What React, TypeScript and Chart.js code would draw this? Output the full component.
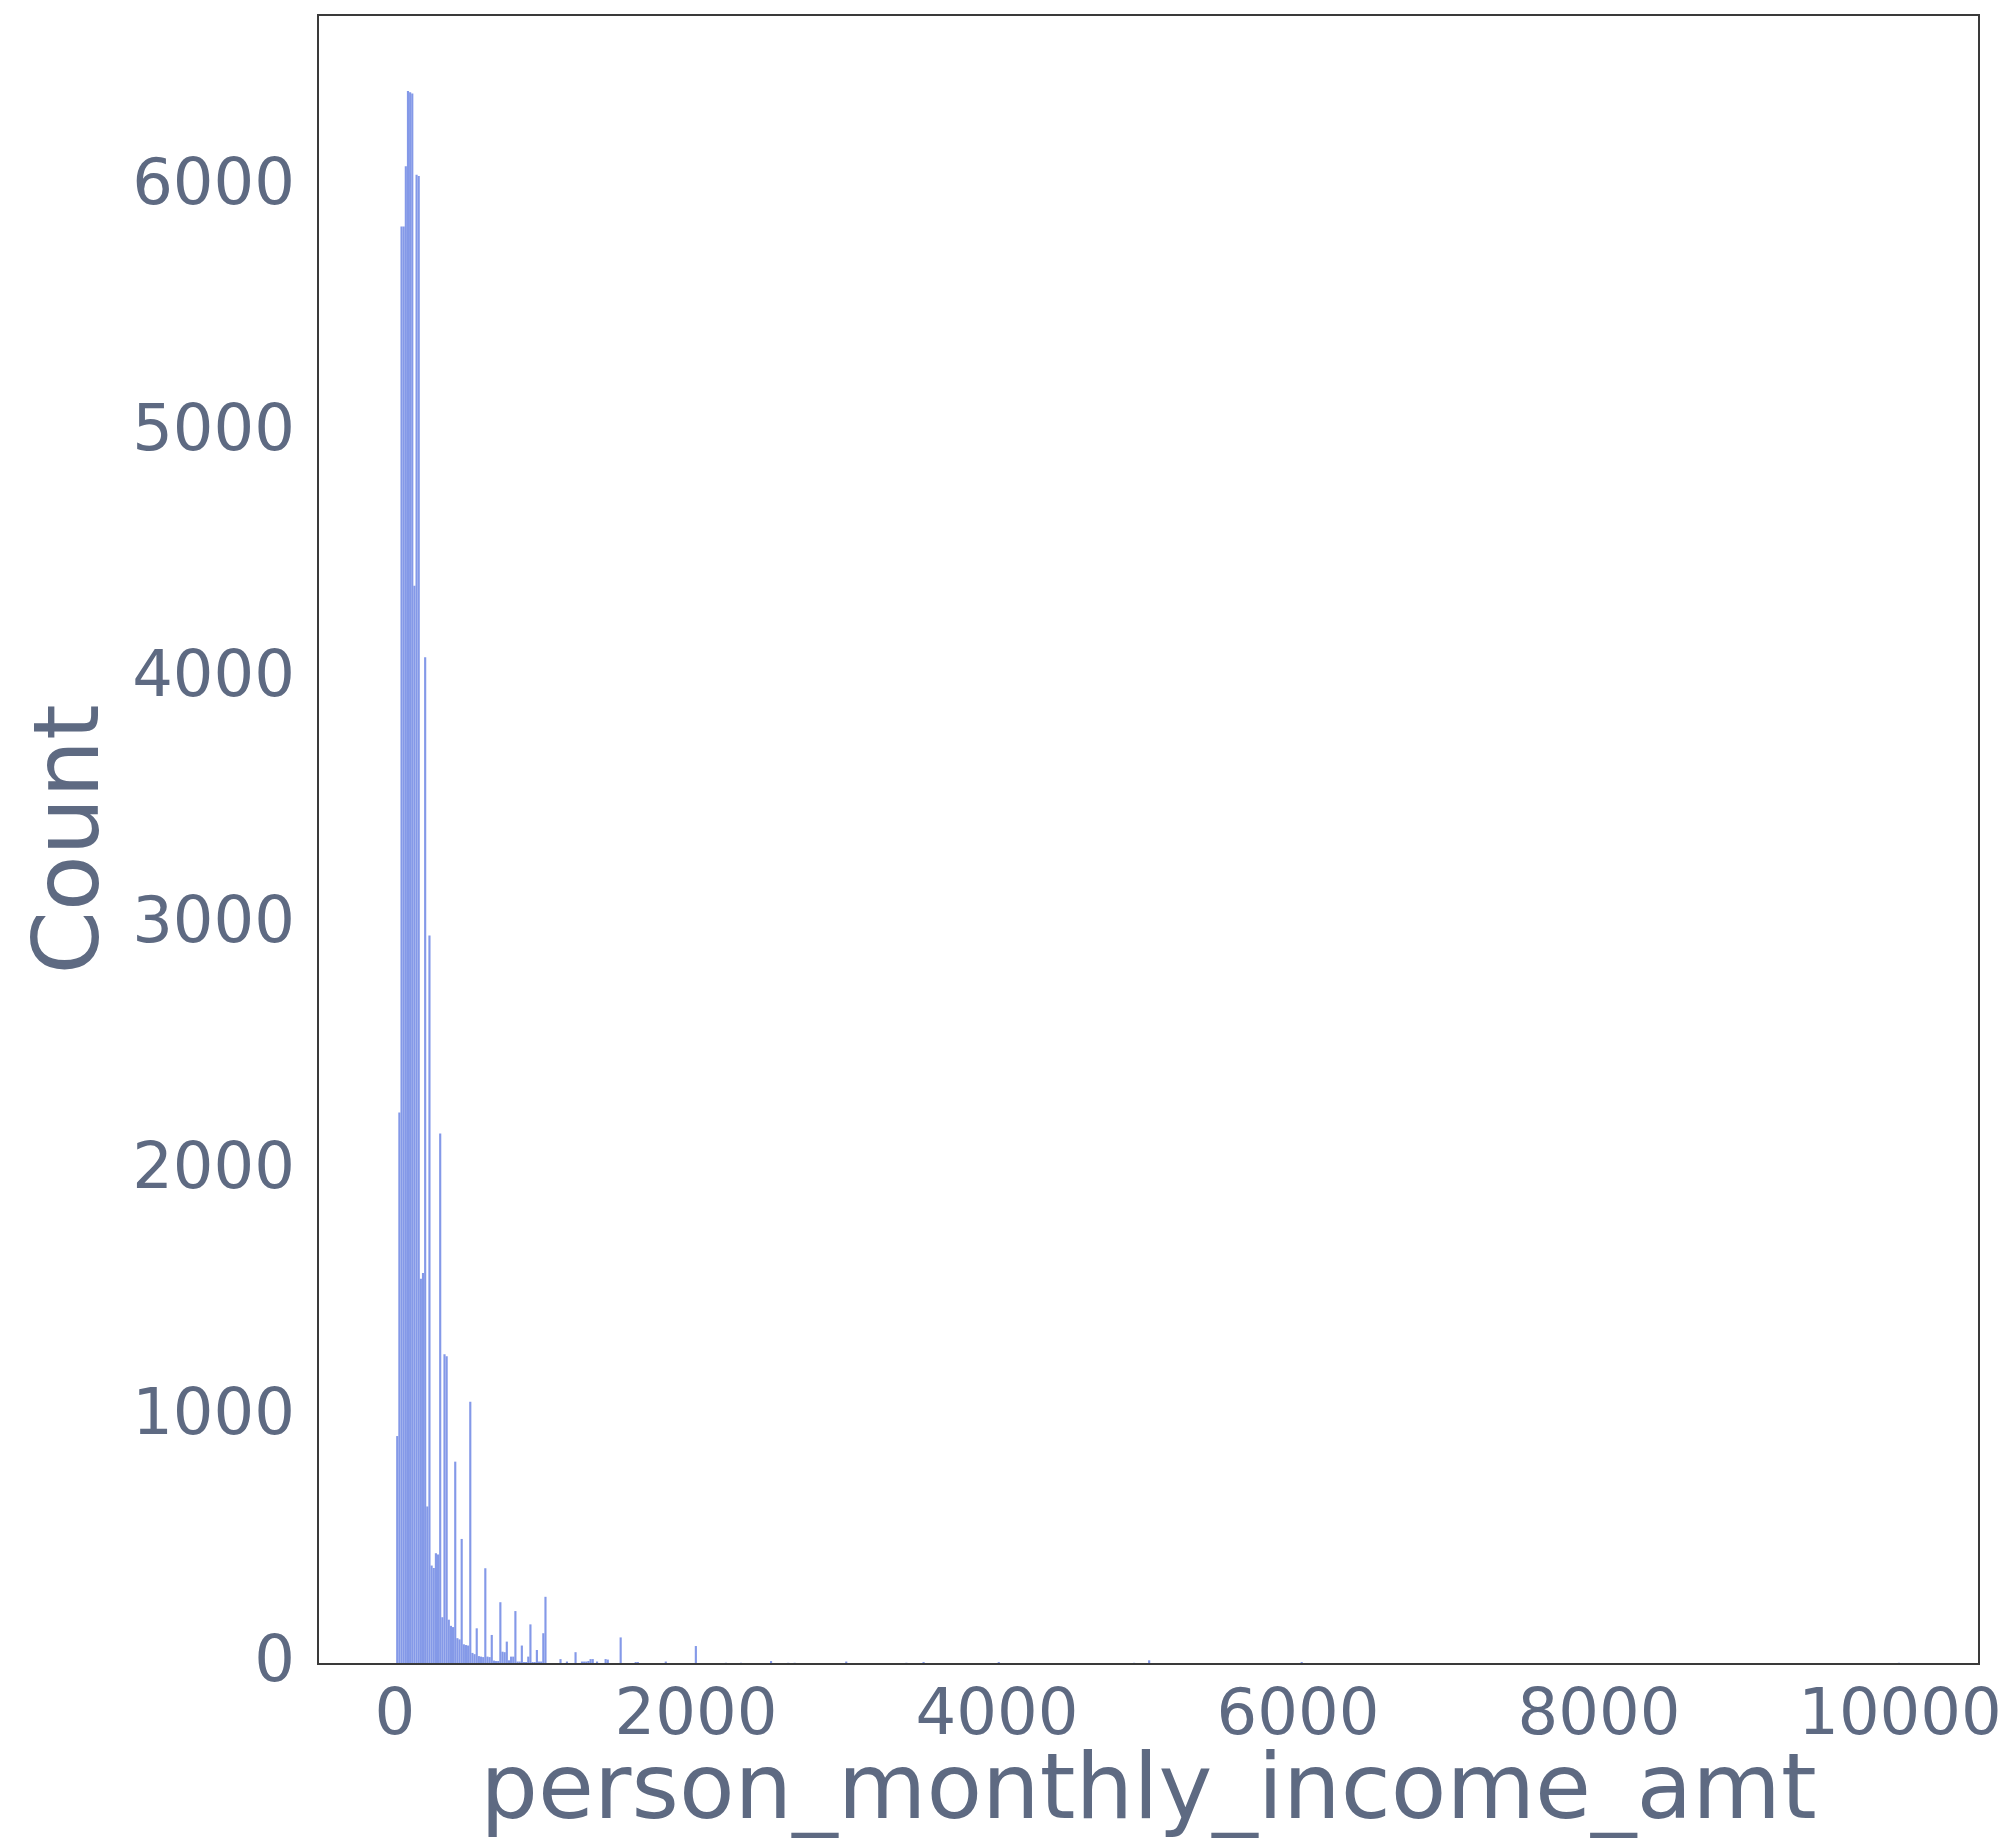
import React, { useEffect, useRef } from "react";
import { Chart, registerables } from "chart.js";

Chart.register(...registerables);

// Histogram bins: regular width, starting at BIN_START
const BIN_START = 8.33;
const BIN_WIDTH = 14.274;

// Counts of the first 71 bins (dense part of the distribution)
const clusterCounts = [
  926, 2240, 5840, 5840, 6085, 6390, 6385, 6380, 4380, 6050,
  6045, 1565, 1588, 4090, 640, 2960, 400, 390, 450, 445,
  2155, 190, 1258, 1250, 180, 155, 150, 822, 105, 100,
  508, 80, 77, 75, 1065, 45, 40, 145, 32, 30,
  28, 389, 30, 28, 118, 14, 12, 12, 251, 50,
  48, 91, 15, 30, 30, 215, 10, 10, 75, 8,
  8, 30, 161, 8, 8, 57, 10, 10, 125, 273,
  0,
];

// Sparse tail: bin index and count
const tailBins = [76, 79, 83, 86, 87, 88, 89, 90, 91, 93, 97, 98, 104, 111, 112, 125, 139, 153, 160, 174, 182, 185, 209, 237, 245, 280, 343, 350, 421, 699];
const tailCounts = [20, 10, 48, 10, 10, 10, 12, 20, 20, 10, 20, 18, 108, 8, 8, 10, 73, 5, 5, 12, 5, 5, 10, 5, 8, 8, 5, 15, 8, 5];

const xTickValues = [0, 2000, 4000, 6000, 8000, 10000];
const yTickValues = [0, 1000, 2000, 3000, 4000, 5000, 6000];

const X_LABEL = "person_monthly_income_amt";
const Y_LABEL = "Count";

const FONT = "'DejaVu Sans', sans-serif";
const TEXT_COLOR = "#5e6a82";
const BAR_COLOR = "rgb(132,153,232)";

function binCenter(i: number) {
  return BIN_START + BIN_WIDTH * (i + 0.5);
}

export default function App() {
  const ref = useRef<HTMLCanvasElement>(null);

  useEffect(() => {
    if (!ref.current) return;
    const points: { x: number; y: number }[] = [];
    clusterCounts.forEach((c, i) => {
      if (c > 0) points.push({ x: binCenter(i), y: c });
    });
    tailBins.forEach((b, j) => points.push({ x: binCenter(b), y: tailCounts[j] }));

    const frame = {
      id: "frame",
      afterDatasetsDraw(chart: any) {
        const { ctx, chartArea: a } = chart;
        ctx.save();
        ctx.strokeStyle = "#3a3a3a";
        ctx.lineWidth = 2;
        ctx.strokeRect(a.left, a.top, a.right - a.left, a.bottom - a.top);
        ctx.restore();
      },
    };

    const chart = new Chart(ref.current, {
      type: "bar",
      data: {
        datasets: [
          {
            data: points as any,
            backgroundColor: BAR_COLOR,
            borderWidth: 0,
            barPercentage: 1,
            categoryPercentage: 1,
            inflateAmount: 0,
            grouped: false,
          } as any,
        ],
      },
      options: {
        animation: false,
        responsive: false,
        devicePixelRatio: 1,
        layout: { padding: { top: 15, right: 31, left: 0, bottom: 0 } },
        plugins: { legend: { display: false }, tooltip: { enabled: false } },
        scales: {
          x: {
            type: "linear",
            min: -511,
            max: 10525,
            offset: false,
            grid: { display: false, drawTicks: false, offset: false } as any,
            border: { display: false },
            afterBuildTicks: (s: any) => {
              s.ticks = xTickValues.map((v) => ({ value: v }));
            },
            afterFit: (s: any) => {
              s.height = 174;
              s.paddingLeft = 0;
              s.paddingRight = 0;
            },
            ticks: {
              font: { family: FONT, size: 64 },
              color: TEXT_COLOR,
              padding: 15,
              maxRotation: 0,
              autoSkip: false,
              callback: (v: any) => String(v),
            },
            title: {
              display: true,
              text: X_LABEL,
              font: { family: FONT, size: 91, lineHeight: 1 },
              color: TEXT_COLOR,
              padding: { top: 0, bottom: -2 },
            },
          },
          y: {
            type: "linear",
            min: 0,
            max: 6699,
            grid: { display: false, drawTicks: false } as any,
            border: { display: false },
            afterBuildTicks: (s: any) => {
              s.ticks = yTickValues.map((v) => ({ value: v }));
            },
            afterFit: (s: any) => {
              s.width = 318;
              s.paddingTop = 0;
              s.paddingBottom = 0;
            },
            ticks: {
              font: { family: FONT, size: 64 },
              color: TEXT_COLOR,
              padding: 23,
              autoSkip: false,
              callback: (v: any) => String(v),
            },
            title: {
              display: true,
              text: Y_LABEL,
              font: { family: FONT, size: 91, lineHeight: 1 },
              color: TEXT_COLOR,
              padding: { top: 29, bottom: 0 },
            },
          },
        },
      },
      plugins: [frame],
    });
    return () => chart.destroy();
  }, []);

  return (
    <canvas
      ref={ref}
      width={2010}
      height={1838}
      style={{ position: "absolute", left: 0, top: 0, width: 2010, height: 1838 }}
    />
  );
}
